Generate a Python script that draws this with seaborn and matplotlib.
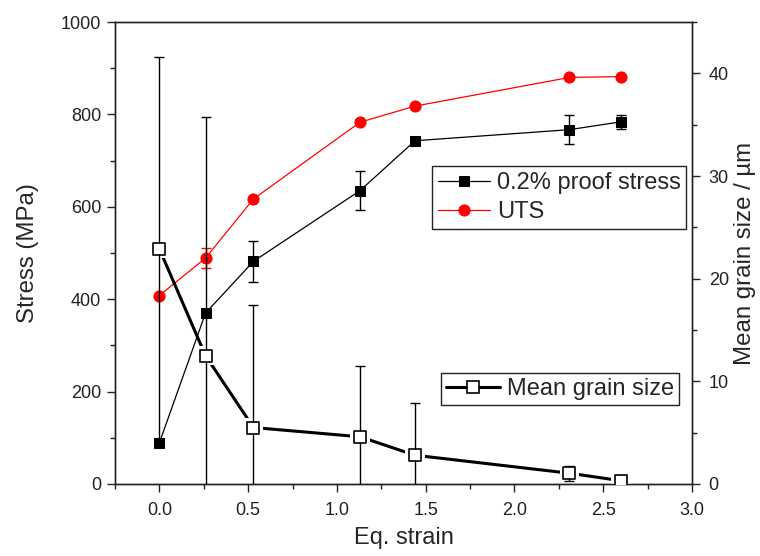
import matplotlib
matplotlib.use("Agg")
import matplotlib.pyplot as plt
import seaborn as sns
import pandas as pd
from matplotlib.ticker import MultipleLocator

strain = [0.0, 0.26, 0.53, 1.13, 1.44, 2.31, 2.60]
proof_stress = [89, 370, 482, 635, 743, 767, 784]
proof_err = [0, 0, 45, 42, 0, 32, 15]
uts = [408, 489, 617, 783, 818, 880, 882]
uts_err = [0, 22, 0, 0, 0, 0, 0]
grain_size = [22.9, 12.5, 5.5, 4.6, 2.8, 1.05, 0.32]
grain_err = [18.7, 23.2, 11.9, 6.9, 5.1, 0.75, 0.3]

sns.set_style("ticks")
plt.rcParams['font.family'] = ['Liberation Sans', 'DejaVu Sans']
plt.rcParams['xtick.direction'] = 'out'
plt.rcParams['ytick.direction'] = 'out'

df = pd.DataFrame({"strain": strain, "proof": proof_stress, "uts": uts, "grain": grain_size})

fig = plt.figure(figsize=(7.6, 5.56), dpi=100)
ax = fig.add_axes([0.1513, 0.1295, 0.7592, 0.8309])
ax2 = ax.twinx()

ax.errorbar(strain, proof_stress, yerr=proof_err, fmt='none', ecolor='black', elinewidth=1.0,
            capsize=3.5, capthick=1.0, zorder=3)
ax.errorbar(strain, uts, yerr=uts_err, fmt='none', ecolor='red', elinewidth=1.0,
            capsize=3.5, capthick=1.0, zorder=3)
sns.lineplot(data=df, x="strain", y="proof", ax=ax, color="black", marker="s", markersize=7.5,
             markeredgecolor="black", linewidth=0.9, label="0.2% proof stress", zorder=4)
sns.lineplot(data=df, x="strain", y="uts", ax=ax, color="red", marker="o", markersize=8,
             markeredgecolor="red", linewidth=0.9, label="UTS", zorder=4)

# grain size: thick line with small gaps around the open squares
sns.lineplot(data=df, x="strain", y="grain", ax=ax2, color="black", linewidth=2.2,
             legend=False, zorder=2)
sns.scatterplot(data=df, x="strain", y="grain", ax=ax2, color="white", marker="s", s=190,
                edgecolor="none", legend=False, zorder=2.5)
ax2.errorbar(strain, grain_size, yerr=grain_err, fmt='none', ecolor='black', elinewidth=1.0,
             capsize=3.5, capthick=1.0, zorder=3)
sns.scatterplot(data=df, x="strain", y="grain", ax=ax2, color="white", marker="s", s=80,
                edgecolor="black", linewidth=1.2, legend=False, zorder=4)
grain_handle = plt.Line2D([], [], color="black", linewidth=2.2, marker="s", markersize=9,
                          markerfacecolor="white", markeredgecolor="black", markeredgewidth=1.2)

ax.set_xlim(-0.25, 3.0)
ax.set_ylim(0, 1000)
ax2.set_ylim(0, 45)
ax.xaxis.set_major_locator(MultipleLocator(0.5))
ax.xaxis.set_minor_locator(MultipleLocator(0.25))
ax.yaxis.set_major_locator(MultipleLocator(200))
ax.yaxis.set_minor_locator(MultipleLocator(100))
ax2.yaxis.set_major_locator(MultipleLocator(10))
ax2.yaxis.set_minor_locator(MultipleLocator(5))

for a in (ax, ax2):
    a.tick_params(which='major', length=6, width=1.0, labelsize=13, color='#222222',
                  labelcolor='#222222', pad=4)
    a.tick_params(which='minor', length=3.5, width=1.0, color='#222222')
    for s in a.spines.values():
        s.set_linewidth(1.0)
        s.set_color('#222222')
        s.set_visible(True)
ax2.tick_params(axis='y', which='major', pad=6)
ax.tick_params(axis='x', which='major', pad=7)

ax.set_xlabel("Eq. strain", fontsize=17, labelpad=6)
ax.set_ylabel("Stress (MPa)", fontsize=17.3, labelpad=16)
ax2.set_ylabel("Mean grain size / \u00b5m", fontsize=17.3, labelpad=4)

leg1 = ax.legend(loc='upper left', bbox_to_anchor=(0.549, 0.688), fontsize=17, frameon=True,
                 fancybox=False, edgecolor='#222222', framealpha=1, borderpad=0.25,
                 handlelength=2.2, handletextpad=0.3, labelspacing=0.3, borderaxespad=0)
leg1.get_frame().set_linewidth(1.0)
leg2 = ax2.legend([grain_handle], ["Mean grain size"], loc='upper left',
                  bbox_to_anchor=(0.565, 0.240), fontsize=17, frameon=True,
                  fancybox=False, edgecolor='#222222', framealpha=1, borderpad=0.2,
                  handlelength=2.3, handletextpad=0.3, borderaxespad=0)
leg2.get_frame().set_linewidth(1.0)

fig.savefig("out.png", dpi=100)
